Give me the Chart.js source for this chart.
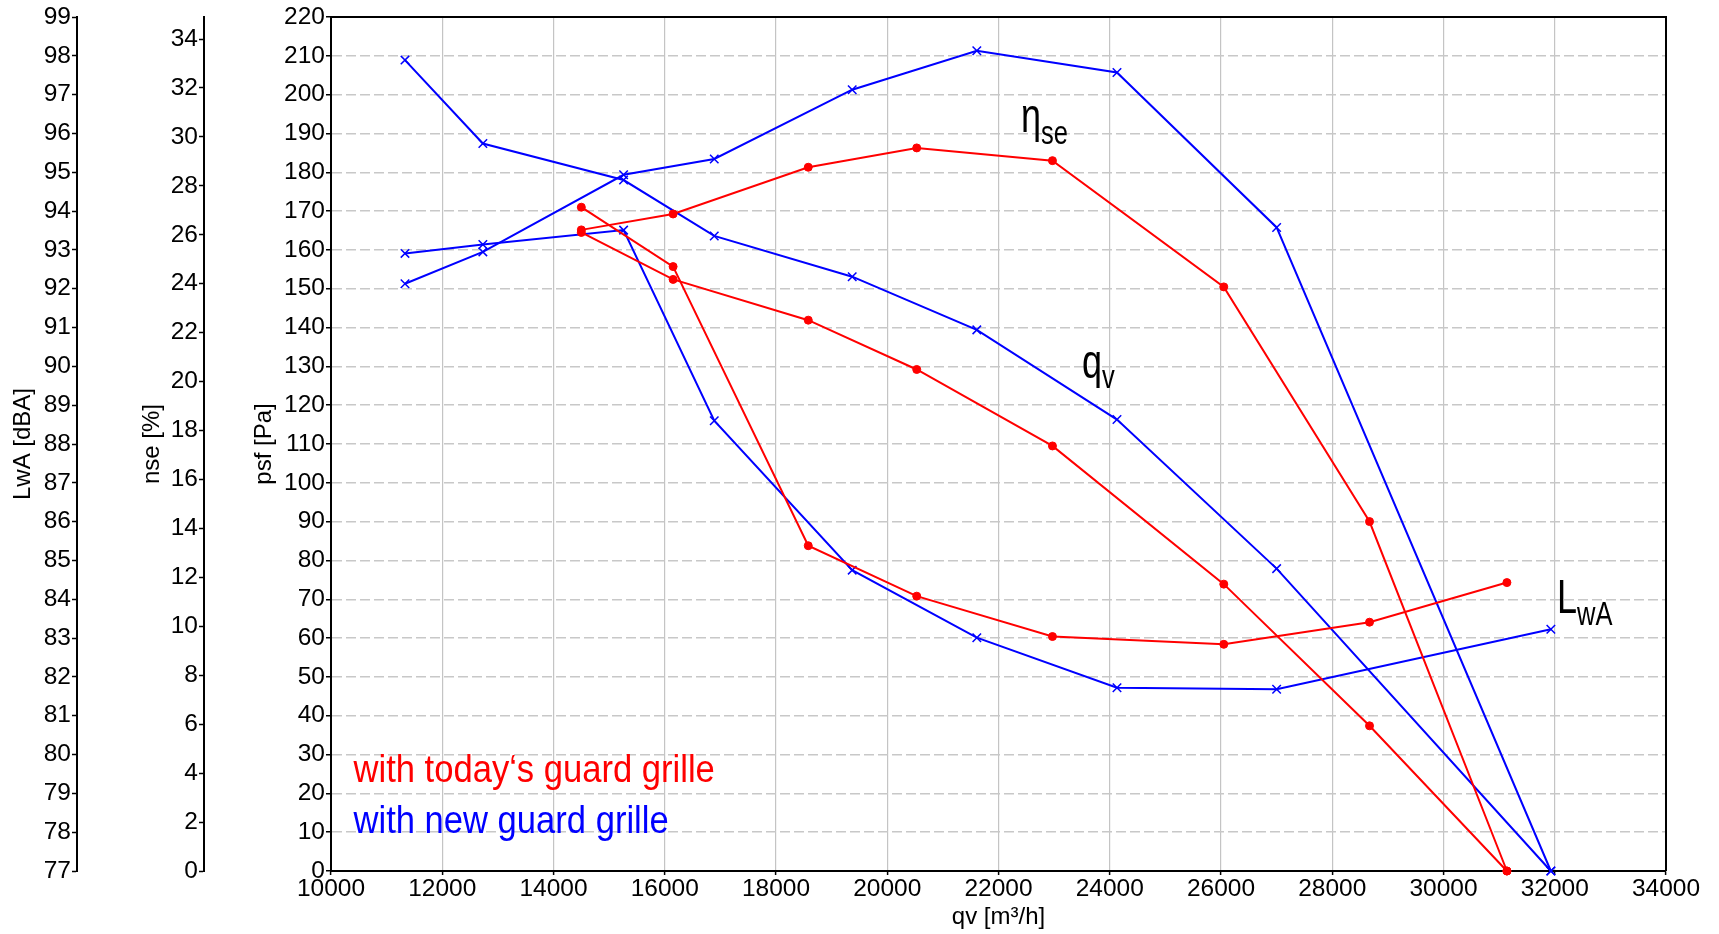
<!DOCTYPE html>
<html><head><meta charset="utf-8">
<script src="https://cdn.jsdelivr.net/npm/chart.js@4/dist/chart.umd.min.js"></script>
<style>html,body{margin:0;padding:0;background:#fff;overflow:hidden}canvas{display:block}</style>
</head><body>
<canvas id="c" width="1719" height="934"></canvas>
<script>
// ---- tick values ----
const flowTicks = [10000,12000,14000,16000,18000,20000,22000,24000,26000,28000,30000,32000,34000];
const psfTicks  = [0,10,20,30,40,50,60,70,80,90,100,110,120,130,140,150,160,170,180,190,200,210,220];
const etaTicks  = [0,2,4,6,8,10,12,14,16,18,20,22,24,26,28,30,32,34];
const lwaTicks  = [77,78,79,80,81,82,83,84,85,86,87,88,89,90,91,92,93,94,95,96,97,98,99];

// ---- series: with today's guard grille (red) ----
const redFlow = [14500, 16150, 18580, 20530, 22970, 26050, 28670, 31140];
const redPsf  = [164.5, 152.4, 141.9, 129.2, 109.5, 73.9, 37.4, 0];
const redEta  = [26.2, 26.85, 28.76, 29.55, 29.03, 23.87, 14.28, 0];
const redLwa  = [94.1, 92.57, 85.38, 84.08, 83.04, 82.84, 83.41, 84.43];

// ---- series: with new guard grille (blue) ----
const blueFlow = [11330, 12730, 15260, 16890, 19370, 21610, 24130, 27000, 31930];
const bluePsf  = [208.9, 187.4, 178.0, 163.6, 153.1, 139.4, 116.3, 77.9, 0];
const blueEta  = [24.0, 25.3, 28.45, 29.1, 31.93, 33.52, 32.63, 26.3, 0];
const blueLwa  = [92.91, 93.14, 93.51, 88.6, 84.75, 83.01, 81.72, 81.68, 83.23];

// ---- texts ----
const legendTexts = ['with today\u2018s guard grille', 'with new guard grille'];
const curveLabels = [['\u03b7','se'], ['q','v'], ['L','wA']];

const FAM = "'Liberation Sans', Arial, Helvetica, sans-serif";
const RED = '#ff0000', BLUE = '#0000ff';

function pts(xs, ys){ return xs.map((v,i)=>({x:v, y:ys[i]})); }
function setTicks(arr){ return s => { s.ticks = arr.map(v=>({value:v})); }; }

function ds(label, xs, ys, axis, color, marker){
  return {
    label, data: pts(xs, ys), yAxisID: axis,
    borderColor: color, backgroundColor: color, borderWidth: 2,
    pointStyle: marker, pointRadius: marker==='circle'?4:6, pointBorderWidth: marker==='circle'?1:1.5,
    pointBackgroundColor: color, pointBorderColor: color,
    tension: 0, fill: false, clip: 6
  };
}

const bgPlugin = {
  id:'bg',
  beforeDraw(chart){ const c=chart.ctx; c.save(); c.fillStyle='#fff'; c.fillRect(0,0,chart.width,chart.height); c.restore(); }
};
const framePlugin = {
  id:'frame',
  beforeDatasetsDraw(chart){
    const {ctx, chartArea:a} = chart;
    ctx.save(); ctx.strokeStyle='#000'; ctx.lineWidth=2;
    ctx.beginPath(); ctx.moveTo(a.left, a.top); ctx.lineTo(a.right, a.top); ctx.lineTo(a.right, a.bottom); ctx.stroke();
    ctx.restore();
  }
};
const textPlugin = {
  id:'texts',
  afterDatasetsDraw(chart){
    const {ctx, scales:{x, psf}} = chart;
    function label(pair, qx, pv, dy){
      const px = x.getPixelForValue(qx), py = psf.getPixelForValue(pv);
      ctx.save(); ctx.translate(px, py); ctx.scale(0.75, 1);
      ctx.fillStyle = '#000'; ctx.textAlign='left'; ctx.textBaseline='alphabetic';
      ctx.font = '48px ' + FAM; ctx.fillText(pair[0], 0, 0);
      const w = ctx.measureText(pair[0]).width;
      ctx.font = '34px ' + FAM; ctx.fillText(pair[1], w, dy);
      ctx.restore();
    }
    label(curveLabels[0], 22404, 190.4, 12);
    label(curveLabels[1], 23501, 127.0, 10);
    label(curveLabels[2], 32041, 66.5, 12);
    function line(txt, color, qx, pv){
      const px = x.getPixelForValue(qx), py = psf.getPixelForValue(pv);
      ctx.save(); ctx.translate(px, py); ctx.scale(0.91, 1);
      ctx.fillStyle = color; ctx.textAlign='left'; ctx.textBaseline='alphabetic';
      ctx.font = '38px ' + FAM; ctx.fillText(txt, 0, 0);
      ctx.restore();
    }
    line(legendTexts[0], RED, 10404, 23.0);
    line(legendTexts[1], BLUE, 10404, 9.87);
  }
};

const tickFont = {family: FAM, size: 24.5};
const titleFont = {family: FAM, size: 24};
const tickColor = '#000';

new Chart(document.getElementById('c'), {
  type: 'line',
  data: { datasets: [
    ds('ηse today', redFlow, redEta, 'nse', RED, 'circle'),
    ds('psf today', redFlow, redPsf, 'psf', RED, 'circle'),
    ds('LwA today', redFlow, redLwa, 'lwa', RED, 'circle'),
    ds('ηse new', blueFlow, blueEta, 'nse', BLUE, 'crossRot'),
    ds('psf new', blueFlow, bluePsf, 'psf', BLUE, 'crossRot'),
    ds('LwA new', blueFlow, blueLwa, 'lwa', BLUE, 'crossRot')
  ]},
  options: {
    responsive: false, animation: false, devicePixelRatio: 1,
    layout: { padding: {left:0, top:17, right:53, bottom:0} },
    plugins: { legend:{display:false}, tooltip:{enabled:false} },
    events: [],
    scales: {
      x: {
        type:'linear', position:'bottom', min:10000, max:34000,
        afterBuildTicks: setTicks(flowTicks),
        afterFit: s => { s.height = 63; },
        ticks:{ callback: v => String(v), font: tickFont, color: tickColor, padding: 0, maxRotation:0, autoSkip:false },
        grid:{ color:'#c4c4c4', lineWidth:1.2, tickLength:4, tickColor:'#000', tickWidth:1.5 },
        border:{ color:'#000', width:2 },
        title:{ display:true, text:'qv [m³/h]', font:titleFont, color:tickColor, padding:{top:0, bottom:2.6} }
      },
      psf: {
        type:'linear', position:'left', weight:0, min:0, max:220,
        afterBuildTicks: setTicks(psfTicks),
        afterFit: s => { s.width = 127; },
        ticks:{ callback: v => String(v), font: tickFont, color: tickColor, padding: 1, autoSkip:false },
        grid:{ color: c => (c.tick && (c.tick.value===0 || c.tick.value===220)) ? 'rgba(0,0,0,0)' : '#c8c8c8',
               lineWidth:1.5, tickLength:5, tickColor:'#000', tickWidth:1.5 },
        border:{ color:'#000', width:2, dash:[10,4] },
        title:{ display:true, text:'psf [Pa]', font:titleFont, color:tickColor, padding:{top:45.6, bottom:0} }
      },
      nse: {
        type:'linear', position:'left', weight:1, min:0, max:34.9,
        afterBuildTicks: setTicks(etaTicks),
        afterFit: s => { s.width = 127; },
        ticks:{ callback: v => String(v), font: tickFont, color: tickColor, padding: 1, autoSkip:false },
        grid:{ drawOnChartArea:false, color:'#000', tickLength:5, tickColor:'#000', tickWidth:1.5 },
        border:{ color:'#000', width:2 },
        title:{ display:true, text:'nse [%]', font:titleFont, color:tickColor, padding:{top:60.6, bottom:0} }
      },
      lwa: {
        type:'linear', position:'left', weight:2, min:77, max:99,
        afterBuildTicks: setTicks(lwaTicks),
        afterFit: s => { s.width = 77; },
        ticks:{ callback: v => String(v), font: tickFont, color: tickColor, padding: 1, autoSkip:false },
        grid:{ drawOnChartArea:false, color:'#000', tickLength:5, tickColor:'#000', tickWidth:1.5 },
        border:{ color:'#000', width:2 },
        title:{ display:true, text:'LwA [dBA]', font:titleFont, color:tickColor, padding:{top:8.6, bottom:0} }
      }
    }
  },
  plugins: [bgPlugin, framePlugin, textPlugin]
});
</script>
</body></html>
